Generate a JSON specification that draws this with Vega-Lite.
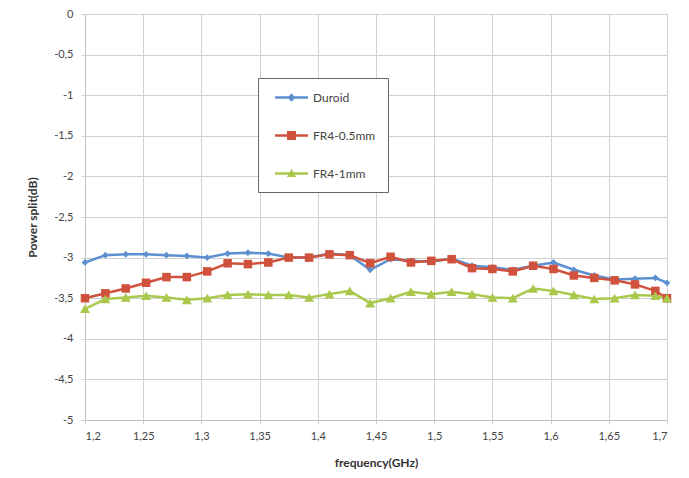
{
  "$schema": "https://vega.github.io/schema/vega-lite/v6.json",
  "width": 582,
  "height": 406,
  "autosize": {"type": "none"},
  "padding": {"left": 85, "top": 14, "right": 22, "bottom": 58},
  "background": "white",
  "config": {
    "font": "Lato",
    "view": {"stroke": "#c8c8c8"},
    "axis": {
      "grid": true,
      "gridColor": "#d0d0d0",
      "gridWidth": 1,
      "domainColor": "#c0c0c0",
      "ticks": true,
      "tickSize": 4,
      "tickColor": "#d0d0d0",
      "labelFont": "Lato",
      "labelFontSize": 11,
      "labelColor": "#444",
      "titleFont": "Lato",
      "titleFontSize": 12,
      "titleFontWeight": "bold",
      "titleColor": "#333"
    }
  },
  "data": {
    "values": [
      {"f": 1.2, "series": "Duroid", "dB": -3.06},
      {"f": 1.2175, "series": "Duroid", "dB": -2.97},
      {"f": 1.235, "series": "Duroid", "dB": -2.96},
      {"f": 1.2525, "series": "Duroid", "dB": -2.96},
      {"f": 1.27, "series": "Duroid", "dB": -2.97},
      {"f": 1.2875, "series": "Duroid", "dB": -2.98},
      {"f": 1.305, "series": "Duroid", "dB": -3.0},
      {"f": 1.3225, "series": "Duroid", "dB": -2.95},
      {"f": 1.34, "series": "Duroid", "dB": -2.94},
      {"f": 1.3575, "series": "Duroid", "dB": -2.95},
      {"f": 1.375, "series": "Duroid", "dB": -3.0},
      {"f": 1.3925, "series": "Duroid", "dB": -3.0},
      {"f": 1.41, "series": "Duroid", "dB": -2.95},
      {"f": 1.4275, "series": "Duroid", "dB": -2.97},
      {"f": 1.445, "series": "Duroid", "dB": -3.15},
      {"f": 1.4625, "series": "Duroid", "dB": -3.02},
      {"f": 1.48, "series": "Duroid", "dB": -3.04},
      {"f": 1.4975, "series": "Duroid", "dB": -3.05},
      {"f": 1.515, "series": "Duroid", "dB": -3.01},
      {"f": 1.5325, "series": "Duroid", "dB": -3.1},
      {"f": 1.55, "series": "Duroid", "dB": -3.12},
      {"f": 1.5675, "series": "Duroid", "dB": -3.15},
      {"f": 1.585, "series": "Duroid", "dB": -3.1},
      {"f": 1.6025, "series": "Duroid", "dB": -3.06},
      {"f": 1.62, "series": "Duroid", "dB": -3.15},
      {"f": 1.6375, "series": "Duroid", "dB": -3.22},
      {"f": 1.655, "series": "Duroid", "dB": -3.27},
      {"f": 1.6725, "series": "Duroid", "dB": -3.26},
      {"f": 1.69, "series": "Duroid", "dB": -3.25},
      {"f": 1.7, "series": "Duroid", "dB": -3.31},
      {"f": 1.2, "series": "FR4-0.5mm", "dB": -3.5},
      {"f": 1.2175, "series": "FR4-0.5mm", "dB": -3.44},
      {"f": 1.235, "series": "FR4-0.5mm", "dB": -3.38},
      {"f": 1.2525, "series": "FR4-0.5mm", "dB": -3.31},
      {"f": 1.27, "series": "FR4-0.5mm", "dB": -3.24},
      {"f": 1.2875, "series": "FR4-0.5mm", "dB": -3.24},
      {"f": 1.305, "series": "FR4-0.5mm", "dB": -3.17},
      {"f": 1.3225, "series": "FR4-0.5mm", "dB": -3.07},
      {"f": 1.34, "series": "FR4-0.5mm", "dB": -3.08},
      {"f": 1.3575, "series": "FR4-0.5mm", "dB": -3.06},
      {"f": 1.375, "series": "FR4-0.5mm", "dB": -3.0},
      {"f": 1.3925, "series": "FR4-0.5mm", "dB": -3.0},
      {"f": 1.41, "series": "FR4-0.5mm", "dB": -2.96},
      {"f": 1.4275, "series": "FR4-0.5mm", "dB": -2.97},
      {"f": 1.445, "series": "FR4-0.5mm", "dB": -3.07},
      {"f": 1.4625, "series": "FR4-0.5mm", "dB": -2.99},
      {"f": 1.48, "series": "FR4-0.5mm", "dB": -3.06},
      {"f": 1.4975, "series": "FR4-0.5mm", "dB": -3.04},
      {"f": 1.515, "series": "FR4-0.5mm", "dB": -3.02},
      {"f": 1.5325, "series": "FR4-0.5mm", "dB": -3.13},
      {"f": 1.55, "series": "FR4-0.5mm", "dB": -3.14},
      {"f": 1.5675, "series": "FR4-0.5mm", "dB": -3.17},
      {"f": 1.585, "series": "FR4-0.5mm", "dB": -3.1},
      {"f": 1.6025, "series": "FR4-0.5mm", "dB": -3.14},
      {"f": 1.62, "series": "FR4-0.5mm", "dB": -3.22},
      {"f": 1.6375, "series": "FR4-0.5mm", "dB": -3.25},
      {"f": 1.655, "series": "FR4-0.5mm", "dB": -3.28},
      {"f": 1.6725, "series": "FR4-0.5mm", "dB": -3.33},
      {"f": 1.69, "series": "FR4-0.5mm", "dB": -3.41},
      {"f": 1.7, "series": "FR4-0.5mm", "dB": -3.5},
      {"f": 1.2, "series": "FR4-1mm", "dB": -3.63},
      {"f": 1.2175, "series": "FR4-1mm", "dB": -3.51},
      {"f": 1.235, "series": "FR4-1mm", "dB": -3.49},
      {"f": 1.2525, "series": "FR4-1mm", "dB": -3.47},
      {"f": 1.27, "series": "FR4-1mm", "dB": -3.49},
      {"f": 1.2875, "series": "FR4-1mm", "dB": -3.52},
      {"f": 1.305, "series": "FR4-1mm", "dB": -3.5},
      {"f": 1.3225, "series": "FR4-1mm", "dB": -3.46},
      {"f": 1.34, "series": "FR4-1mm", "dB": -3.45},
      {"f": 1.3575, "series": "FR4-1mm", "dB": -3.46},
      {"f": 1.375, "series": "FR4-1mm", "dB": -3.46},
      {"f": 1.3925, "series": "FR4-1mm", "dB": -3.49},
      {"f": 1.41, "series": "FR4-1mm", "dB": -3.45},
      {"f": 1.4275, "series": "FR4-1mm", "dB": -3.41},
      {"f": 1.445, "series": "FR4-1mm", "dB": -3.56},
      {"f": 1.4625, "series": "FR4-1mm", "dB": -3.5},
      {"f": 1.48, "series": "FR4-1mm", "dB": -3.42},
      {"f": 1.4975, "series": "FR4-1mm", "dB": -3.45},
      {"f": 1.515, "series": "FR4-1mm", "dB": -3.42},
      {"f": 1.5325, "series": "FR4-1mm", "dB": -3.45},
      {"f": 1.55, "series": "FR4-1mm", "dB": -3.49},
      {"f": 1.5675, "series": "FR4-1mm", "dB": -3.5},
      {"f": 1.585, "series": "FR4-1mm", "dB": -3.38},
      {"f": 1.6025, "series": "FR4-1mm", "dB": -3.41},
      {"f": 1.62, "series": "FR4-1mm", "dB": -3.46},
      {"f": 1.6375, "series": "FR4-1mm", "dB": -3.51},
      {"f": 1.655, "series": "FR4-1mm", "dB": -3.5},
      {"f": 1.6725, "series": "FR4-1mm", "dB": -3.46},
      {"f": 1.69, "series": "FR4-1mm", "dB": -3.47},
      {"f": 1.7, "series": "FR4-1mm", "dB": -3.5}
    ]
  },
  "encoding": {
    "x": {
      "field": "f",
      "type": "quantitative",
      "scale": {"domain": [1.2, 1.7], "nice": false, "zero": false},
      "axis": {
        "values": [1.2, 1.25, 1.3, 1.35, 1.4, 1.45, 1.5, 1.55, 1.6, 1.65, 1.7],
        "labelExpr": "replace(toString(datum.value), '.', ',')",
        "labelPadding": 6,
        "title": "frequency(GHz)",
        "titlePadding": 16
      }
    },
    "y": {
      "field": "dB",
      "type": "quantitative",
      "scale": {"domain": [-5, 0], "nice": false, "zero": false},
      "axis": {
        "values": [0, -0.5, -1, -1.5, -2, -2.5, -3, -3.5, -4, -4.5, -5],
        "labelExpr": "replace(toString(datum.value), '.', ',')",
        "labelPadding": 8,
        "title": "Power split(dB)",
        "titlePadding": 14
      }
    }
  },
  "resolve": {"scale": {"color": "independent", "shape": "independent"}, "legend": {"color": "independent", "shape": "independent"}},
  "layer": [
    {
      "mark": {"type": "line", "strokeWidth": 2.5},
      "encoding": {
        "color": {
          "field": "series",
          "type": "nominal",
          "scale": {"domain": ["Duroid", "FR4-0.5mm", "FR4-1mm"], "range": ["#5b8fd0", "#d0523c", "#a9c84c"]},
          "legend": null
        }
      }
    },
    {
      "mark": {"type": "point", "filled": true, "opacity": 1},
      "encoding": {
        "color": {
          "field": "series",
          "type": "nominal",
          "scale": {"domain": ["Duroid", "FR4-0.5mm", "FR4-1mm"], "range": ["#5b8fd0", "#d0523c", "#a9c84c"]},
          "legend": null
        },
        "shape": {
          "field": "series",
          "type": "nominal",
          "scale": {"domain": ["Duroid", "FR4-0.5mm", "FR4-1mm"], "range": ["diamond", "square", "triangle-up"]},
          "legend": null
        },
        "size": {
          "field": "series",
          "type": "nominal",
          "scale": {"domain": ["Duroid", "FR4-0.5mm", "FR4-1mm"], "range": [45, 100, 75]},
          "legend": null
        }
      }
    },
    {
      "transform": [{"filter": "datum.f > 5"}],
      "mark": {"type": "point", "filled": true, "opacity": 1},
      "encoding": {
        "color": {
          "field": "series",
          "type": "nominal",
          "scale": {"domain": ["Duroid", "FR4-0.5mm", "FR4-1mm"], "range": ["#5b8fd0", "#d0523c", "#a9c84c"]},
          "legend": {
            "title": null,
            "orient": "none",
            "legendX": 173,
            "legendY": 64,
            "direction": "vertical",
            "fillColor": "white",
            "strokeColor": "#666",
            "padding": 12,
            "symbolOffset": 14,
            "labelOffset": 14,
            "rowPadding": 24,
            "symbolSize": 225,
            "labelFont": "Lato",
            "labelFontSize": 12,
            "labelColor": "#444",
            "symbolStrokeWidth": 0
          }
        },
        "shape": {
          "field": "series",
          "type": "nominal",
          "scale": {
            "domain": ["Duroid", "FR4-0.5mm", "FR4-1mm"],
            "range": [
              "M-2.2,-0.16H2.2V0.16H-2.2Z M0,-0.55L0.55,0L0,0.55L-0.55,0Z",
              "M-2.2,-0.16H2.2V0.16H-2.2Z M-0.6,-0.6H0.6V0.6H-0.6Z",
              "M-2.2,-0.16H2.2V0.16H-2.2Z M0,-0.65L0.62,0.45H-0.62Z"
            ]
          },
          "legend": {
            "title": null,
            "orient": "none",
            "legendX": 173,
            "legendY": 64,
            "direction": "vertical",
            "fillColor": "white",
            "strokeColor": "#666",
            "padding": 12,
            "symbolOffset": 14,
            "labelOffset": 14,
            "rowPadding": 24,
            "symbolSize": 225,
            "labelFont": "Lato",
            "labelFontSize": 12,
            "labelColor": "#444",
            "symbolStrokeWidth": 0
          }
        }
      }
    }
  ]
}
